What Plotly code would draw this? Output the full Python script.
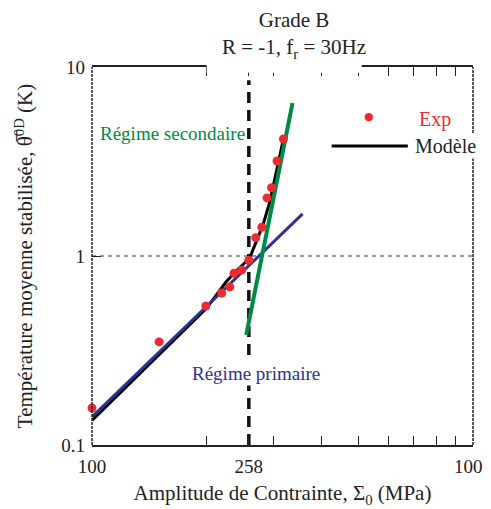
import plotly.graph_objects as go

# data
exp_sigma = [100, 150, 199, 219, 230, 236, 247, 258, 269, 279, 288, 296, 306, 318]
exp_theta = [0.157, 0.351, 0.544, 0.637, 0.686, 0.81, 0.843, 0.95, 1.25, 1.42, 2.03, 2.30, 3.18, 4.16]

model_sigma = [100, 150, 200, 225, 240, 259, 270, 281, 293, 305, 318]
model_theta = [0.135, 0.30, 0.53, 0.73, 0.84, 0.97, 1.19, 1.46, 1.94, 2.79, 4.16]

prim_sigma = [100, 357]
prim_theta = [0.141, 1.67]

sec_sigma = [254, 336]
sec_theta = [0.382, 6.45]

sigma_lim = 258
theta_ref = 1
dash_top = 8.5

x_ticks = [100, 258, 1000]
x_minor = [200, 300, 400, 500, 600, 700, 800, 900]
y_ticks = [0.1, 1, 10]
y_labels = ["0.1", "1", "10"]

RED = "#ec2a30"
GREEN = "#008a45"
BLUE = "#2e3192"
FONT = "Liberation Serif"

fig = go.Figure()
fig.add_trace(go.Scatter(x=model_sigma, y=model_theta, mode="lines",
                         line=dict(color="black", width=3)))
fig.add_trace(go.Scatter(x=prim_sigma, y=prim_theta, mode="lines",
                         line=dict(color=BLUE, width=3)))
fig.add_trace(go.Scatter(x=sec_sigma, y=sec_theta, mode="lines",
                         line=dict(color=GREEN, width=4)))
fig.add_trace(go.Scatter(x=exp_sigma, y=exp_theta, mode="markers",
                         marker=dict(color=RED, size=9), cliponaxis=False))

# reference lines
fig.add_shape(type="line", xref="x", yref="y", x0=sigma_lim, x1=sigma_lim,
              y0=0.1, y1=dash_top, line=dict(color="#111", width=3.5, dash="11px,7px"),
              layer="below")
fig.add_shape(type="line", xref="paper", yref="y", x0=0, x1=1,
              y0=theta_ref, y1=theta_ref, line=dict(color="#333", width=1, dash="4px,4px"),
              layer="below")

# frame (fine dashed)
for x0, y0, x1, y1 in [(1, 0, 1, 1), (0, 0, 0, 1)]:
    fig.add_shape(type="line", xref="paper", yref="paper", x0=x0, y0=y0, x1=x1, y1=y1,
                  line=dict(color="#222", width=1.5, dash="3px,1px"))
# gap in the top frame under the title
fig.add_shape(type="rect", xref="paper", yref="paper", x0=0.301, x1=0.708, y0=0.985, y1=1.03,
              fillcolor="white", line=dict(width=0), layer="above")

# legend
fig.add_shape(type="line", xref="paper", yref="paper", x0=0.629, x1=0.829,
              y0=0.791, y1=0.791, line=dict(color="black", width=3))
fig.add_annotation(xref="paper", yref="paper", x=0.727, y=0.870, text="●",
                   xanchor="center", yanchor="middle",
                   showarrow=False, font=dict(family="DejaVu Sans", size=11, color=RED))
fig.add_annotation(xref="paper", yref="paper", x=0.853, y=0.862, text="Exp",
                   xanchor="left", yanchor="middle", showarrow=False, bgcolor="white",
                   font=dict(family=FONT, size=20, color=RED))
fig.add_annotation(xref="paper", yref="paper", x=0.842, y=0.791, text="Modèle",
                   xanchor="left", yanchor="middle", showarrow=False, bgcolor="white",
                   font=dict(family=FONT, size=20, color="#222"))

# region labels
fig.add_annotation(xref="paper", yref="paper", x=0.210, y=0.825, text="Régime secondaire",
                   xanchor="center", yanchor="middle",
                   showarrow=False, bgcolor="white", font=dict(family=FONT, size=19, color=GREEN))
fig.add_annotation(xref="paper", yref="paper", x=0.431, y=0.190, text="Régime primaire",
                   xanchor="center", yanchor="middle",
                   showarrow=False, bgcolor="white", font=dict(family=FONT, size=19, color=BLUE))

# title
fig.add_annotation(xref="paper", yref="paper", x=0.53, y=1.0, yanchor="bottom", xanchor="center",
                   yshift=4, borderpad=0,
                   text="Grade B<br>R = -1, f<sub>r</sub> = 30Hz", showarrow=False,
                   font=dict(family=FONT, size=21, color="#222"))

fig.update_xaxes(type="log", range=[2, 3], tickvals=x_ticks, ticktext=[str(v) for v in x_ticks],
                 ticks="inside", ticklen=9, tickcolor="#222", tickwidth=1,
                 minor=dict(tickvals=x_minor, ticks="inside", ticklen=9, tickcolor="#222"),
                 showline=True, linecolor="#222", linewidth=1.5, mirror="ticks",
                 showgrid=False, zeroline=False, automargin=False, ticklabelstandoff=3,
                 ticklabeloverflow="allow",
                 tickfont=dict(family=FONT, size=19, color="#222"),
                 title=dict(text="Amplitude de Contrainte, Σ<sub>0</sub> (MPa)", standoff=10,
                            font=dict(family=FONT, size=21, color="#222")))
fig.update_yaxes(type="log", range=[-1, 1], tickvals=y_ticks, ticktext=y_labels,
                 ticks="inside", ticklen=9, tickcolor="#222",
                 showline=False, showgrid=False, zeroline=False, automargin=False,
                 ticklabelstandoff=6,
                 tickfont=dict(family=FONT, size=19, color="#222"),
                 title=dict(text="Température moyenne stabilisée, θ\u0305<sup>0D</sup> (K)", standoff=22,
                            font=dict(family=FONT, size=21, color="#222")))

# the page body adds 8px, so the figure is 8px smaller than the window
fig.update_layout(width=483, height=501, showlegend=False,
                  margin=dict(l=84, r=18, t=59, b=64),
                  plot_bgcolor="white", paper_bgcolor="white")

fig.write_html("out.html")
